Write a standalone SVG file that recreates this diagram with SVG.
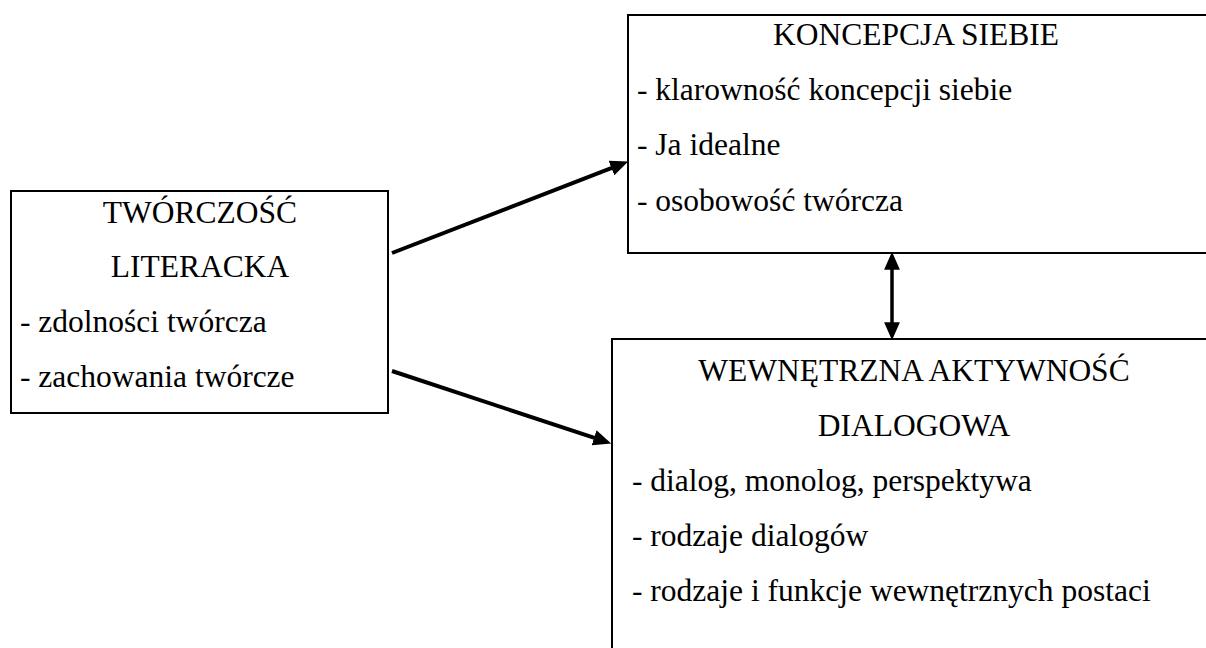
<svg xmlns="http://www.w3.org/2000/svg" width="1206" height="648" viewBox="0 0 1206 648">
<style>
  .box { fill: #ffffff; stroke: #000000; stroke-width: 2; }
  .t { font-family: 'Liberation Serif', Tinos, 'Times New Roman', 'DejaVu Serif', serif; font-size: 31.5px; fill: #000000; }
  .c { text-anchor: middle; }
  .conn { stroke: #000000; fill: none; }
</style>
<defs>
  <marker id="ah" markerUnits="userSpaceOnUse" markerWidth="18" markerHeight="16" refX="6" refY="7" orient="auto-start-reverse" viewBox="0 0 16 14">
    <path d="M0,0 L16,7 L0,14 z" fill="#000000"/>
  </marker>
</defs>
<rect width="1206" height="648" fill="#ffffff"/>

<g id="node-tworczosc">
  <rect class="box" x="11" y="191" width="377" height="222"/>
  <text class="t c" x="200" y="223" font-family="Liberation Serif, serif">TWÓRCZOŚĆ</text>
  <text class="t c" x="200" y="277" font-family="Liberation Serif, serif">LITERACKA</text>
  <text class="t" x="20" y="332" font-family="Liberation Serif, serif">- zdolności twórcza</text>
  <text class="t" x="20" y="387" font-family="Liberation Serif, serif">- zachowania twórcze</text>
</g>

<g id="node-koncepcja">
  <rect class="box" x="628" y="15" width="590" height="238"/>
  <text class="t c" x="916" y="45">KONCEPCJA SIEBIE</text>
  <text class="t" x="637" y="100">- klarowność koncepcji siebie</text>
  <text class="t" x="637" y="155">- Ja idealne</text>
  <text class="t" x="637" y="211">- osobowość twórcza</text>
</g>

<g id="node-wewnetrzna">
  <rect class="box" x="612" y="339" width="610" height="330"/>
  <text class="t c" x="914" y="381">WEWNĘTRZNA AKTYWNOŚĆ</text>
  <text class="t c" x="914" y="436">DIALOGOWA</text>
  <text class="t" x="632" y="491">- dialog, monolog, perspektywa</text>
  <text class="t" x="632" y="546">- rodzaje dialogów</text>
  <text class="t" x="632" y="601">- rodzaje i funkcje wewnętrznych postaci</text>
</g>

<g id="connectors">
  <line class="conn" x1="392" y1="253" x2="617.7" y2="165.6" stroke-width="4" marker-end="url(#ah)"/>
  <line class="conn" x1="392" y1="371" x2="600.5" y2="439.9" stroke-width="4" marker-end="url(#ah)"/>
  <line class="conn" x1="892" y1="263" x2="892" y2="329" stroke-width="3.5" marker-start="url(#ah)" marker-end="url(#ah)"/>
</g>
</svg>
